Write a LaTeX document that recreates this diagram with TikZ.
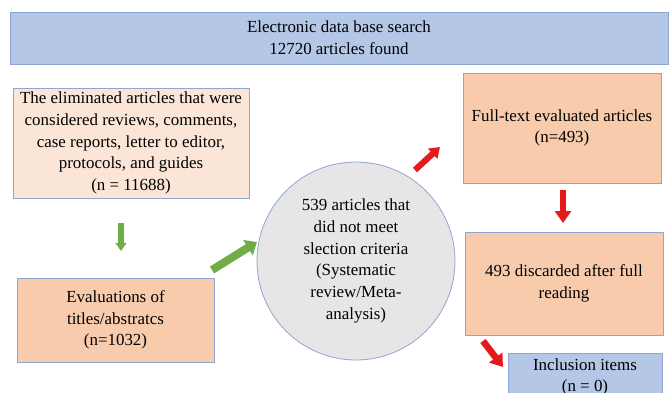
\documentclass[tikz,border=0pt]{standalone}
\usepackage{fontspec}
\setmainfont{Liberation Serif}
\usetikzlibrary{arrows.meta, positioning, shapes.geometric}
\definecolor{searchblue}{RGB}{180,199,231}
\definecolor{edgeblue}{RGB}{143,165,210}
\definecolor{lightpeach}{RGB}{251,229,214}
\definecolor{peach}{RGB}{248,203,173}
\definecolor{circgray}{RGB}{231,230,230}
\definecolor{arrgreen}{RGB}{112,173,71}
\definecolor{arrred}{RGB}{228,26,28}
\tikzset{
  box/.style={draw=edgeblue, line width=0.6pt, align=center, inner sep=2pt,
              font=\fontsize{12.7}{16.3}\selectfont},
  gblock/.style={arrgreen, -{Triangle[length=8pt, width=13pt]}},
  rblock/.style={arrred, -{Triangle[length=9pt, width=12pt]}},
}

\begin{document}
\begin{tikzpicture}[x=0.75pt, y=-0.75pt]
  \clip (0,0) rectangle (672,393);
  \useasboundingbox (0,0) rectangle (672,393);

  \node[box, fill=searchblue, minimum width=493.5pt, minimum height=39pt]
      (search) at (339,38) {Electronic data base search\\12720 articles found};
  \node[box, fill=lightpeach, minimum width=177pt, minimum height=82.5pt]
      (elim) at (131,143) {The eliminated articles that were\\considered reviews, comments,\\case reports, letter to editor,\\protocols, and guides\\(n = 11688)};
  \node[box, fill=peach, minimum width=147.75pt, minimum height=63pt]
      (eval) at (115.5,320) {Evaluations of\\titles/abstratcs\\(n=1032)};
  \node[box, circle, fill=circgray, minimum size=148.5pt]
      (crit) at (356,261) {539 articles that\\did not meet\\slection criteria\\(Systematic\\review/Meta-\\analysis)};
  \node[box, fill=peach, minimum width=148.5pt, minimum height=82.5pt]
      (full) at (562,128) {Full-text evaluated articles\\(n=493)};
  \node[box, fill=peach, minimum width=148.5pt, minimum height=77.25pt]
      (disc) at (564,283.5) {493 discarded after full\\reading};
  \node[box, fill=searchblue, minimum width=115.5pt, minimum height=35.25pt,
        anchor=north] (incl) at (585,353) {Inclusion items\\(n = 0)};

  % block arrows
  \coordinate (g1) at (121,223);
  \coordinate (g2) at (121,251);
  \coordinate (g3) at (212,270);
  \coordinate (g4) at (257,242);
  \coordinate (r1) at (415,170);
  \coordinate (r2) at (440,147);
  \coordinate (r3) at (563,190);
  \coordinate (r4) at (563,223);
  \coordinate (r5) at (483,341);
  \coordinate (r6) at (503,367);

  \draw[gblock, line width=3.8pt, -{Triangle[length=6pt, width=8pt]}] (g1) -- (g2);
  \draw[gblock, line width=6pt] (g3) -- (g4);
  \draw[rblock, line width=4.6pt, -{Triangle[length=7.5pt, width=10pt]}] (r1) -- (r2);
  \draw[rblock, line width=4.6pt] (r3) -- (r4);
  \draw[rblock, line width=5pt] (r5) -- (r6);
\end{tikzpicture}
\end{document}
